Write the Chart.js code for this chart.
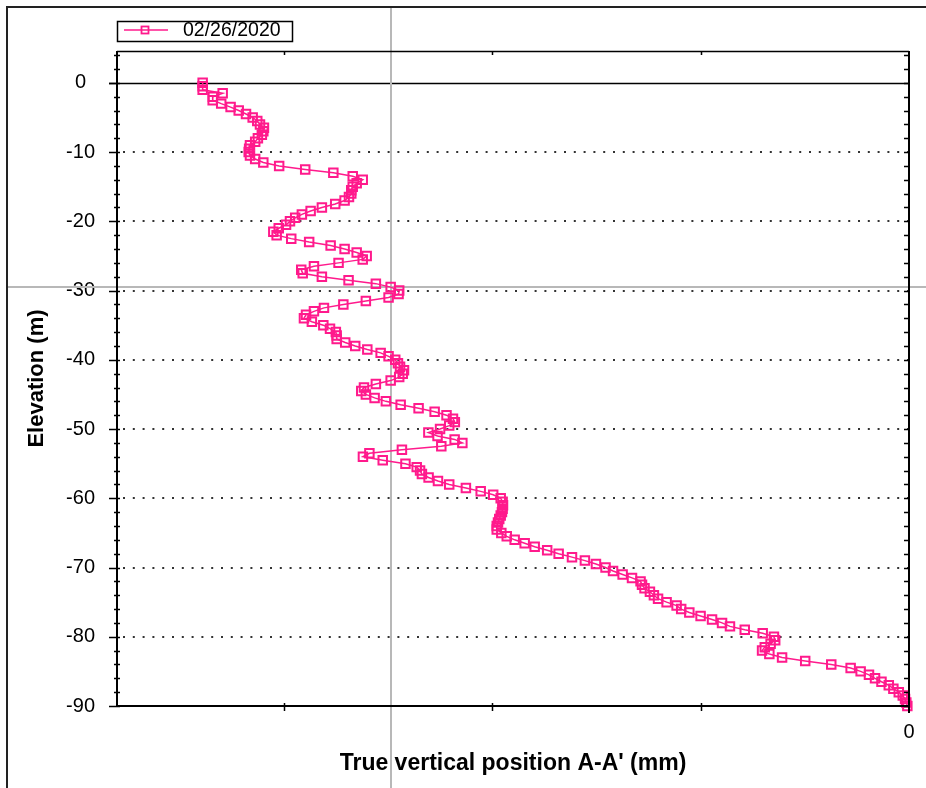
<!DOCTYPE html>
<html>
<head>
<meta charset="utf-8">
<script src="https://cdn.jsdelivr.net/npm/chart.js@4.4.1/dist/chart.umd.min.js"></script>
<style>
  html, body { margin: 0; padding: 0; background: #fff; }
  canvas { display: block; }
</style>
</head>
<body>
<canvas id="chart" width="926" height="788"></canvas>
<script>
const seriesLabel = '02/26/2020';

// elevation of each reading (m), every half metre
const elevation = [
  0, -0.5, -1, -1.5, -2, -2.5, -3, -3.5, -4, -4.5, -5, -5.5, -6, -6.5, -7, -7.5, -8, -8.5, -9, -9.5,
  -10, -10.5, -11, -11.5, -12, -12.5, -13, -13.5, -14, -14.5, -15, -15.5, -16, -16.5, -17, -17.5, -18, -18.5, -19, -19.5,
  -20, -20.5, -21, -21.5, -22, -22.5, -23, -23.5, -24, -24.5, -25, -25.5, -26, -26.5, -27, -27.5, -28, -28.5, -29, -29.5,
  -30, -30.5, -31, -31.5, -32, -32.5, -33, -33.5, -34, -34.5, -35, -35.5, -36, -36.5, -37, -37.5, -38, -38.5, -39, -39.5,
  -40, -40.5, -41, -41.5, -42, -42.5, -43, -43.5, -44, -44.5, -45, -45.5, -46, -46.5, -47, -47.5, -48, -48.5, -49, -49.5,
  -50, -50.5, -51, -51.5, -52, -52.5, -53, -53.5, -54, -54.5, -55, -55.5, -56, -56.5, -57, -57.5, -58, -58.5, -59, -59.5,
  -60, -60.5, -61, -61.5, -62, -62.5, -63, -63.5, -64, -64.5, -65, -65.5, -66, -66.5, -67, -67.5, -68, -68.5, -69, -69.5,
  -70, -70.5, -71, -71.5, -72, -72.5, -73, -73.5, -74, -74.5, -75, -75.5, -76, -76.5, -77, -77.5, -78, -78.5, -79, -79.5,
  -80, -80.5, -81, -81.5, -82, -82.5, -83, -83.5, -84, -84.5, -85, -85.5, -86, -86.5, -87, -87.5, -88, -88.5, -89, -89.5,
  -90
];

// true vertical position (mm)
const position = [
  -33.89, -33.89, -33.89, -32.93, -33.40, -33.41, -33.00, -32.55, -32.16, -31.81,
  -31.49, -31.27, -31.14, -30.95, -30.98, -31.05, -31.24, -31.37, -31.62, -31.66,
  -31.68, -31.62, -31.37, -30.98, -30.22, -28.97, -27.62, -26.69, -26.21, -26.50,
  -26.69, -26.76, -26.76, -26.87, -27.08, -27.53, -28.17, -28.71, -29.13, -29.45,
  -29.70, -29.89, -30.24, -30.50, -30.34, -29.64, -28.78, -27.75, -27.08, -26.50,
  -26.02, -26.21, -27.37, -28.55, -29.16, -29.09, -28.17, -26.89, -25.58, -24.87,
  -24.46, -24.49, -24.97, -26.06, -27.14, -28.07, -28.55, -28.93, -29.03, -28.65,
  -28.10, -27.78, -27.50, -27.46, -27.46, -27.05, -26.57, -25.99, -25.35, -24.97,
  -24.65, -24.52, -24.42, -24.23, -24.29, -24.46, -24.87, -25.58, -26.15, -26.28,
  -26.06, -25.64, -25.10, -24.39, -23.53, -22.76, -22.19, -21.88, -21.79, -22.06,
  -22.50, -23.06, -22.62, -21.80, -21.43, -22.44, -24.33, -25.89, -26.20, -25.25,
  -24.16, -23.62, -23.46, -23.37, -23.05, -22.60, -22.06, -21.26, -20.55, -19.95,
  -19.59, -19.50, -19.48, -19.50, -19.53, -19.59, -19.66, -19.72, -19.78, -19.78,
  -19.56, -19.30, -18.92, -18.44, -17.96, -17.36, -16.81, -16.17, -15.55, -15.02,
  -14.56, -14.20, -13.74, -13.29, -12.88, -12.81, -12.69, -12.43, -12.24, -12.04,
  -11.63, -11.15, -10.93, -10.54, -10.00, -9.45, -8.97, -8.59, -7.88, -7.02,
  -6.48, -6.42, -6.64, -6.92, -7.05, -6.70, -6.09, -4.98, -3.73, -2.80,
  -2.32, -1.92, -1.63, -1.32, -0.97, -0.75, -0.49, -0.30, -0.19, -0.13,
  -0.08
];

const yTickLabels = [0, -10, -20, -30, -40, -50, -60, -70, -80, -90];
const yMinorStep = 2;
const xTickValues = [-30, -20, -10, 0];
const xTickLabels = ['', '', '', '0'];
const cursorIndex = 59; // reading under the grey crosshair

const pink = '#ff1a8c';
Chart.defaults.font.family = '"Liberation Sans", Arial, sans-serif';
Chart.defaults.color = '#000';

const decorations = {
  id: 'decorations',
  beforeDatasetsDraw(chart) {
    const {ctx, chartArea: a, scales: {x, y}} = chart;
    ctx.save();
    // dotted grid
    ctx.strokeStyle = '#333';
    ctx.lineWidth = 2;
    ctx.setLineDash([2, 7.8]);
    yTickLabels.forEach(v => {
      if (v === 0) return;
      const py = Math.round(y.getPixelForValue(v));
      ctx.beginPath();
      ctx.moveTo(a.left + 6, py);
      ctx.lineTo(a.right, py);
      ctx.stroke();
    });
    ctx.setLineDash([]);
    // zero line
    const y0 = Math.round(y.getPixelForValue(0)) + 0.5;
    ctx.strokeStyle = '#000';
    ctx.lineWidth = 1.5;
    ctx.beginPath();
    ctx.moveTo(a.left - 8, y0);
    ctx.lineTo(a.right, y0);
    ctx.stroke();
    // crosshair
    const cx = Math.round(x.getPixelForValue(position[cursorIndex]));
    const cy = Math.round(y.getPixelForValue(elevation[cursorIndex]));
    ctx.strokeStyle = '#b8b8b8';
    ctx.lineWidth = 2;
    ctx.beginPath();
    ctx.moveTo(cx, 7);
    ctx.lineTo(cx, chart.height);
    ctx.moveTo(7, cy);
    ctx.lineTo(chart.width, cy);
    ctx.stroke();
    ctx.restore();
  },
  afterDraw(chart) {
    const {ctx, chartArea: a, scales: {x, y}} = chart;
    ctx.save();
    ctx.strokeStyle = '#000';
    // plot frame
    ctx.lineWidth = 2;
    ctx.beginPath();
    ctx.moveTo(a.left, a.top);
    ctx.lineTo(a.left, a.bottom + 1);
    ctx.moveTo(a.left, a.bottom);
    ctx.lineTo(a.right, a.bottom);
    ctx.moveTo(a.right, a.top);
    ctx.lineTo(a.right, a.bottom + 7);
    ctx.stroke();
    ctx.lineWidth = 1.5;
    ctx.beginPath();
    ctx.moveTo(a.left, a.top + 0.5);
    ctx.lineTo(a.right, a.top + 0.5);
    ctx.stroke();
    // y ticks, left and right
    ctx.lineWidth = 1.5;
    ctx.beginPath();
    for (let v = Math.floor(y.max / yMinorStep) * yMinorStep; v >= y.min; v -= yMinorStep) {
      const py = Math.round(y.getPixelForValue(v)) + 0.5;
      const major = yTickLabels.includes(v);
      ctx.moveTo(a.left - (major ? 8 : 3), py);
      ctx.lineTo(a.left + 3, py);
      ctx.moveTo(a.right - 5, py);
      ctx.lineTo(a.right, py);
    }
    // x ticks, top and bottom
    xTickValues.forEach(v => {
      if (v === 0) return;
      const px = Math.round(x.getPixelForValue(v)) + 0.5;
      ctx.moveTo(px, a.top);
      ctx.lineTo(px, a.top + 4);
      ctx.moveTo(px, a.bottom - 3);
      ctx.lineTo(px, a.bottom + 5);
    });
    ctx.stroke();
    // outer frame
    ctx.strokeStyle = '#222';
    ctx.lineWidth = 2;
    ctx.beginPath();
    ctx.moveTo(7, chart.height);
    ctx.lineTo(7, 7);
    ctx.lineTo(chart.width, 7);
    ctx.stroke();
    // legend
    const lx = a.left, ly = 21;
    ctx.strokeStyle = '#000';
    ctx.lineWidth = 1.5;
    ctx.strokeRect(lx + 0.5, ly + 0.5, 175, 20);
    ctx.strokeStyle = pink;
    ctx.lineWidth = 1.5;
    ctx.beginPath();
    ctx.moveTo(lx + 7, ly + 9);
    ctx.lineTo(lx + 51, ly + 9);
    ctx.stroke();
    ctx.lineWidth = 1.8;
    ctx.strokeRect(lx + 24.5, ly + 5.5, 7, 7);
    ctx.fillStyle = '#000';
    ctx.font = '19.5px "Liberation Sans", Arial, sans-serif';
    ctx.textBaseline = 'alphabetic';
    ctx.fillText(seriesLabel, lx + 66, ly + 15);
    ctx.restore();
  }
};

new Chart(document.getElementById('chart'), {
  type: 'scatter',
  data: {
    datasets: [{
      label: seriesLabel,
      data: elevation.map((e, i) => ({x: position[i], y: e})),
      showLine: true,
      tension: 0,
      borderColor: pink,
      borderWidth: 1.5,
      pointStyle: 'rect',
      pointRadius: 6,
      pointBorderWidth: 2,
      pointBorderColor: pink,
      pointBackgroundColor: 'rgba(0,0,0,0)',
      clip: 10
    }]
  },
  options: {
    responsive: false,
    animation: false,
    events: [],
    layout: { padding: { top: 51, right: 17, left: 0, bottom: 0 } },
    plugins: { legend: { display: false }, tooltip: { enabled: false } },
    scales: {
      x: {
        type: 'linear',
        min: -38,
        max: 0,
        afterBuildTicks: s => { s.ticks = xTickValues.map(v => ({value: v})); },
        afterFit: s => { s.height = 82; },
        ticks: {
          autoSkip: false,
          maxRotation: 0,
          padding: 6,
          font: { size: 20 },
          callback: v => xTickLabels[xTickValues.indexOf(v)] ?? ''
        },
        grid: { display: false },
        border: { display: false },
        title: {
          display: true,
          text: "True vertical position A-A' (mm)",
          font: { size: 23, weight: 'bold' },
          padding: { top: 0, bottom: 11 }
        }
      },
      y: {
        min: -90,
        max: 4.6,
        afterBuildTicks: s => { s.ticks = yTickLabels.map(v => ({value: v})); },
        afterFit: s => { s.width = 117; },
        ticks: {
          padding: 14,
          crossAlign: 'center',
          font: { size: 20 },
          callback: v => String(v)
        },
        grid: { display: false },
        border: { display: false },
        title: {
          display: true,
          text: 'Elevation (m)',
          font: { size: 22, weight: 'bold' },
          padding: { top: 24, bottom: 0 }
        }
      }
    }
  },
  plugins: [decorations]
});
</script>
</body>
</html>
